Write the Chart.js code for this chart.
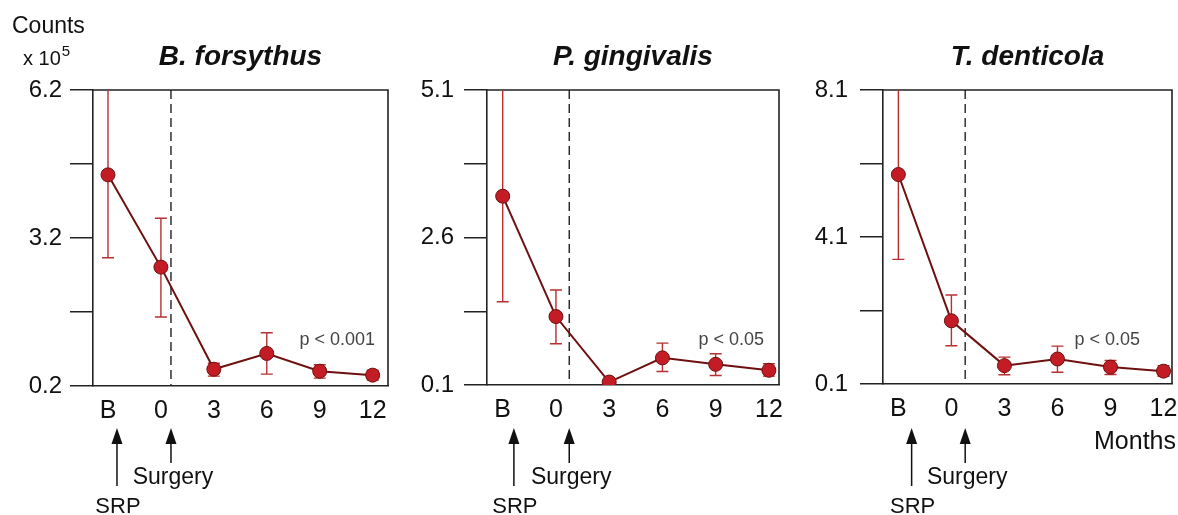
<!DOCTYPE html>
<html>
<head>
<meta charset="utf-8">
<script src="https://cdn.jsdelivr.net/npm/chart.js@4.4.1/dist/chart.umd.min.js"></script>
<style>
    body { margin: 0; background: #fff; width: 1178px; height: 515px; overflow: hidden; position: relative; }
    .panel { position: absolute; top: 0; height: 515px; }
</style>
</head>
<body>
<div class="panel" style="left:0;width:400px"><canvas id="c1"></canvas></div>
<div class="panel" style="left:392px;width:400px"><canvas id="c2"></canvas></div>
<div class="panel" style="left:782px;width:404px"><canvas id="c3"></canvas></div>
<script>
// Valores (conteos x 10^5)
const monthLabels = ['B', '0', '3', '6', '9', '12'];

const bfMean = [4.48, 2.61, 0.54, 0.86, 0.50, 0.42];
const bfLow = [2.80, 1.60, 0.40, 0.44, 0.36, 0.32];
const bfHigh = [6.20, 3.60, 0.66, 1.28, 0.63, 0.52];
const bfTicks = [0.2, 1.7, 3.2, 4.7, 6.2];
const bfTickLabels = ['0.2', '', '3.2', '', '6.2'];

const pgMean = [3.30, 1.26, 0.15, 0.56, 0.45, 0.35];
const pgLow = [1.51, 0.80, 0.15, 0.33, 0.26, 0.25];
const pgHigh = [5.10, 1.71, 0.15, 0.81, 0.63, 0.46];
const pgTicks = [0.1, 1.35, 2.6, 3.85, 5.1];
const pgTickLabels = ['0.1', '', '2.6', '', '5.1'];

const tdMean = [5.80, 1.82, 0.60, 0.78, 0.56, 0.45];
const tdLow = [3.49, 1.14, 0.35, 0.42, 0.36, 0.31];
const tdHigh = [8.10, 2.52, 0.83, 1.13, 0.74, 0.60];
const tdTicks = [0.1, 2.1, 4.1, 6.1, 8.1];
const tdTickLabels = ['0.1', '', '4.1', '', '8.1'];

const titles = ['B. forsythus', 'P. gingivalis', 'T. denticola'];
const pLabels = ['p < 0.001', 'p < 0.05', 'p < 0.05'];

const FONT = '"Liberation Sans", Arial, sans-serif';
const LINE_COLOR = '#6e1010';
const DOT_COLOR = '#c41c24';
const ERR_COLOR = '#b8302f';
const AXIS_COLOR = '#222';

// Plugin: barras de error, caja, línea punteada, flechas y textos
const decorPlugin = {
    id: 'decor',
    beforeDatasetsDraw(chart) {
        const o = chart.options.plugins.decor;
        const { ctx, chartArea: a } = chart;
        const xs = chart.scales.x, ys = chart.scales.y;

        ctx.save();
        // Caja superior / derecha
        ctx.strokeStyle = AXIS_COLOR;
        ctx.lineWidth = 1.6;
        ctx.beginPath();
        ctx.moveTo(a.left, a.top);
        ctx.lineTo(a.right, a.top);
        ctx.lineTo(a.right, a.bottom);
        ctx.stroke();

        // Línea punteada de cirugía
        const dx = xs.getPixelForValue(o.surgeryX);
        ctx.setLineDash([9, 5]);
        ctx.lineWidth = 1.4;
        ctx.beginPath();
        ctx.moveTo(dx, a.top);
        ctx.lineTo(dx, a.bottom);
        ctx.stroke();
        ctx.setLineDash([]);

        // Barras de error
        ctx.beginPath();
        ctx.rect(a.left, a.top, a.right - a.left, a.bottom - a.top);
        ctx.clip();
        ctx.strokeStyle = ERR_COLOR;
        ctx.lineWidth = 1.4;
        o.low.forEach((lo, i) => {
            const hi = o.high[i];
            if (hi - lo <= 0) return;
            const x = xs.getPixelForValue(i);
            const yl = ys.getPixelForValue(lo);
            const yh = ys.getPixelForValue(hi);
            ctx.beginPath();
            ctx.moveTo(x, yl);
            ctx.lineTo(x, yh);
            ctx.moveTo(x - 6, yl);
            ctx.lineTo(x + 6, yl);
            if (hi < ys.max) {
                ctx.moveTo(x - 6, yh);
                ctx.lineTo(x + 6, yh);
            }
            ctx.stroke();
        });
        ctx.restore();
    },
    afterDraw(chart) {
        const o = chart.options.plugins.decor;
        const { ctx, chartArea: a } = chart;
        const xs = chart.scales.x;

        ctx.save();
        ctx.fillStyle = '#111';
        ctx.textBaseline = 'alphabetic';

        // Título
        ctx.font = 'italic bold 28px ' + FONT;
        ctx.textAlign = 'center';
        ctx.fillText(o.title, (a.left + a.right) / 2, 65);

        // Valor p
        ctx.font = '18px ' + FONT;
        ctx.fillStyle = '#444';
        ctx.textAlign = 'right';
        ctx.fillText(o.pText, a.right - o.pInset, 345);

        // Flechas SRP y Surgery
        ctx.fillStyle = '#111';
        ctx.strokeStyle = '#111';
        ctx.lineWidth = 1.5;
        const arrow = (x, yTip, yEnd) => {
            ctx.beginPath();
            ctx.moveTo(x, yTip + 10);
            ctx.lineTo(x, yEnd);
            ctx.stroke();
            ctx.beginPath();
            ctx.moveTo(x, yTip);
            ctx.lineTo(x - 5.5, yTip + 16);
            ctx.lineTo(x + 5.5, yTip + 16);
            ctx.closePath();
            ctx.fill();
        };
        const srpX = xs.getPixelForValue(o.srpX);
        const surX = xs.getPixelForValue(o.surgeryX);
        arrow(srpX, 428, 486);
        arrow(surX, 428, 463);

        ctx.font = '23px ' + FONT;
        ctx.textAlign = 'center';
        ctx.fillText('Surgery', surX + 2, 484);
        ctx.font = '22px ' + FONT;
        ctx.fillText('SRP', srpX + 1, 513);

        if (o.counts) {
            ctx.textAlign = 'left';
            ctx.font = '23px ' + FONT;
            ctx.fillText('Counts', 12, 33);
            ctx.font = '20px ' + FONT;
            ctx.fillText('x 10', 23, 65);
            const w = ctx.measureText('x 10').width;
            ctx.font = '15px ' + FONT;
            ctx.fillText('5', 23 + w + 1, 56);
        }
        if (o.months) {
            ctx.textAlign = 'right';
            ctx.font = '25px ' + FONT;
            ctx.fillText('Months', a.right + 4, 449);
        }
        ctx.restore();
    }
};

function makePanel(id, opts) {
    const ctx = document.getElementById(id).getContext('2d');
    const chart = new Chart(ctx, {
        type: 'line',
        data: {
            datasets: [{
                data: opts.mean.map((v, i) => ({ x: i, y: v })),
                borderColor: LINE_COLOR,
                borderWidth: 2,
                pointRadius: 7,
                pointBackgroundColor: DOT_COLOR,
                pointBorderColor: LINE_COLOR,
                pointBorderWidth: 1,
                tension: 0
            }]
        },
        options: {
            responsive: true,
            maintainAspectRatio: false,
            animation: false,
            events: [],
            layout: { autoPadding: false, padding: { top: 90, left: 0, right: 0, bottom: 0 } },
            plugins: {
                legend: { display: false },
                tooltip: { enabled: false },
                decor: {
                    low: opts.low,
                    high: opts.high,
                    title: opts.title,
                    pText: opts.pText,
                    pInset: opts.pInset,
                    surgeryX: opts.surgeryX,
                    srpX: opts.srpX,
                    counts: opts.counts,
                    months: opts.months
                }
            },
            scales: {
                x: {
                    type: 'linear',
                    min: opts.xMin,
                    max: opts.xMax,
                    afterBuildTicks: s => { s.ticks = monthLabels.map((_, i) => ({ value: i })); },
                    afterFit: s => { s.height = opts.xHeight; s.paddingLeft = 0; s.paddingRight = 0; },
                    ticks: {
                        callback: v => monthLabels[v],
                        color: '#111',
                        padding: 10,
                        maxRotation: 0,
                        autoSkip: false,
                        font: { family: FONT, size: 25 }
                    },
                    grid: { display: true, drawOnChartArea: false, drawTicks: false },
                    border: { display: true, color: AXIS_COLOR, width: 1.6 }
                },
                y: {
                    type: 'linear',
                    min: opts.ticks[0],
                    max: opts.ticks[opts.ticks.length - 1],
                    afterBuildTicks: s => { s.ticks = opts.ticks.map(v => ({ value: v })); },
                    afterFit: s => { s.width = opts.yWidth; s.paddingTop = 0; s.paddingBottom = 0; },
                    ticks: {
                        callback: (v, i) => opts.tickLabels[i],
                        color: '#111',
                        padding: opts.yPad,
                        autoSkip: false,
                        font: { family: FONT, size: 24 }
                    },
                    grid: { display: true, drawOnChartArea: false, drawTicks: true, tickLength: 23, color: AXIS_COLOR, lineWidth: 1.5 },
                    border: { display: true, color: AXIS_COLOR, width: 1.6 }
                }
            }
        },
        plugins: [decorPlugin]
    });

    // Ajustar el borde derecho del área al valor deseado
    const diff = chart.chartArea.right - opts.areaRight;
    if (Math.abs(diff) > 0.5) {
        chart.options.layout.padding.right = Math.max(0, diff);
        chart.update();
    }
    return chart;
}

makePanel('c1', {
    mean: bfMean, low: bfLow, high: bfHigh, ticks: bfTicks, tickLabels: bfTickLabels,
    title: titles[0], pText: pLabels[0], pInset: 13,
    xMin: -0.283, xMax: 5.29, surgeryX: 1.19, srpX: 0.17,
    yWidth: 93, yPad: 8, areaRight: 388, xHeight: 129,
    counts: true, months: false
});

makePanel('c2', {
    mean: pgMean, low: pgLow, high: pgHigh, ticks: pgTicks, tickLabels: pgTickLabels,
    title: titles[1], pText: pLabels[1], pInset: 15,
    xMin: -0.295, xMax: 5.19, surgeryX: 1.25, srpX: 0.21,
    yWidth: 95, yPad: 10, areaRight: 387, xHeight: 130,
    counts: false, months: false
});

makePanel('c3', {
    mean: tdMean, low: tdLow, high: tdHigh, ticks: tdTicks, tickLabels: tdTickLabels,
    title: titles[2], pText: pLabels[2], pInset: 32,
    xMin: -0.29, xMax: 5.16, surgeryX: 1.26, srpX: 0.25,
    yWidth: 101, yPad: 12, areaRight: 390, xHeight: 131,
    counts: false, months: true
});
</script>
</body>
</html>
